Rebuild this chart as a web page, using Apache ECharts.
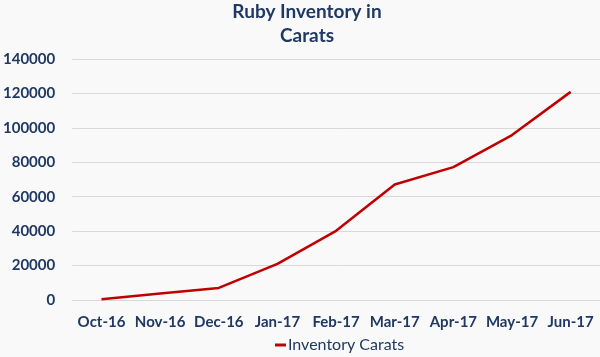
<!DOCTYPE html>
<html>
<head>
<meta charset="utf-8">
<script src="https://cdn.jsdelivr.net/npm/echarts@6/dist/echarts.min.js"></script>
<style>
html,body{margin:0;padding:0;background:#f9f9f9;}
#chart{width:600px;height:357px;}
</style>
</head>
<body>
<div id="chart"></div>
<script>
const titleText = "Ruby Inventory in\nCarats";
const categories = ["Oct-16","Nov-16","Dec-16","Jan-17","Feb-17","Mar-17","Apr-17","May-17","Jun-17"];
const seriesName = "Inventory Carats";
const inventoryCarats = [500, 3800, 7000, 21000, 40200, 67100, 77200, 95800, 120900];
const yTicks = {min: 0, max: 140000, interval: 20000};

const navy = "#1f3864";
const chart = echarts.init(document.getElementById("chart"));
chart.setOption({
  backgroundColor: "#f9f9f9",
  animation: false,
  textStyle: {fontFamily: "Lato"},
  title: {
    text: titleText,
    left: 307, textAlign: "center", top: 0, padding: 0,
    textStyle: {color: navy, fontSize: 19, fontWeight: "bold", lineHeight: 24, fontFamily: "Lato"}
  },
  legend: {
    bottom: 4, left: 275, padding: 0,
    data: [seriesName],
    icon: "rect", itemWidth: 11, itemHeight: 3, itemGap: 2,
    textStyle: {color: navy, fontSize: 16, fontFamily: "Lato", padding: [0,0,0,-3]}
  },
  grid: {left: 70, right: 0, top: 59, bottom: 57, containLabel: false},
  xAxis: {
    type: "category", data: categories, boundaryGap: true,
    axisLine: {show: true, lineStyle: {color: "#d9d9d9", width: 1}},
    axisTick: {show: false},
    axisLabel: {color: navy, fontSize: 15, fontWeight: "bold", margin: 15, interval: 0}
  },
  yAxis: {
    type: "value", min: yTicks.min, max: yTicks.max, interval: yTicks.interval,
    axisLine: {show: false}, axisTick: {show: false},
    splitLine: {lineStyle: {color: "#d9d9d9", width: 1}},
    axisLabel: {color: navy, fontSize: 15, fontWeight: "bold", margin: 17,
      formatter: function (v) { return String(v); }}
  },
  series: [{
    name: seriesName, type: "line", data: inventoryCarats,
    symbol: "none", smooth: false,
    lineStyle: {color: "#c00000", width: 2.5},
    itemStyle: {color: "#c00000"}
  }]
});
</script>
</body>
</html>
